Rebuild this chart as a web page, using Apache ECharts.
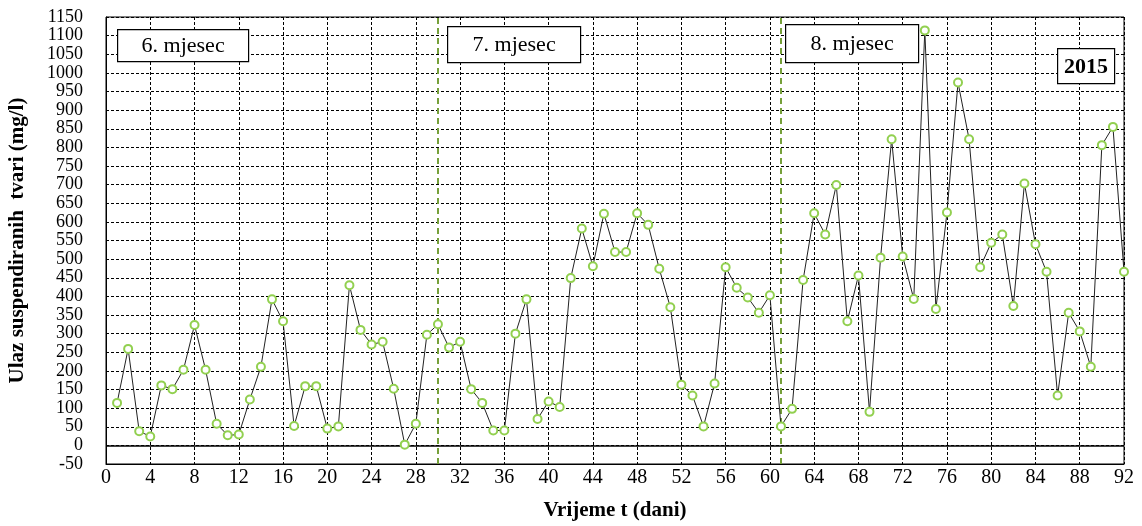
<!DOCTYPE html>
<html>
<head>
<meta charset="utf-8">
<script src="https://cdn.jsdelivr.net/npm/echarts@6/dist/echarts.min.js"></script>
<style>html,body{margin:0;padding:0;background:#fff}#c{width:1142px;height:526px}</style>
</head>
<body>
<div id="c"></div>
<script>
const days = [1,2,3,4,5,6,7,8,9,10,11,12,13,14,15,16,17,18,19,20,21,22,23,24,25,26,27,28,29,30,31,32,33,34,35,36,37,38,39,40,41,42,43,44,45,46,47,48,49,50,51,52,53,54,55,56,57,58,59,60,61,62,63,64,65,66,67,68,69,70,71,72,73,74,75,76,77,78,79,80,81,82,83,84,85,86,87,88,89,90,91,92];
const values = [114,259,38,24,161,151,203,323,203,58,27,29,123,211,392,333,52,159,159,45,51,430,310,271,278,152,2,58,297,325,
  263,278,151,114,40,40,300,392,71,118,103,449,582,481,622,519,519,623,592,474,371,163,134,51,166,478,423,397,356,403,51,
  98,444,623,566,699,333,456,90,504,822,507,393,1114,366,625,974,822,478,544,566,374,703,540,466,134,356,306,211,806,855,466];
const monthBreaks = [30, 61];
const monthLabels = ["6. mjesec", "7. mjesec", "8. mjesec"];
const yearLabel = "2015";
const xTitle = "Vrijeme t (dani)";
const yTitle = "Ulaz suspendiranih  tvari (mg/l)";

const font = "Liberation Serif";
const chart = echarts.init(document.getElementById('c'), null, {renderer: 'canvas'});
const data = days.map((d, i) => [d, values[i]]);

function box(text, left, top, w, h, bold, size) {
  return {
    type: 'group', left: left, top: top, z: 100,
    children: [
      {type: 'rect', z: 100, shape: {x: 0, y: 0, width: w, height: h}, style: {fill: '#fff', stroke: '#000', lineWidth: 1.2}},
      {type: 'text', z: 101, x: w / 2, y: h / 2 + 1, style: {text: text, fill: '#000', fontFamily: font, fontSize: size, fontWeight: bold ? 'bold' : 'normal', align: 'center', verticalAlign: 'middle'}}
    ]
  };
}

chart.setOption({
  animation: false,
  backgroundColor: '#fff',
  grid: {left: 106, right: 18, top: 17, bottom: 62, outerBoundsMode: 'none', containLabel: false, show: true, borderColor: '#000', borderWidth: 1, backgroundColor: 'transparent'},
  xAxis: {
    type: 'value', min: 0, max: 92, interval: 4,
    name: xTitle, nameLocation: 'middle', nameGap: 36,
    nameTextStyle: {fontFamily: font, fontWeight: 'bold', fontSize: 21, color: '#000'},
    axisLine: {onZero: false, lineStyle: {color: '#000', width: 1}},
    axisTick: {show: false},
    axisLabel: {fontFamily: font, fontSize: 20, color: '#000', margin: 4, showMinLabel: true, showMaxLabel: true, formatter: v => String(v)},
    splitLine: {show: true, lineStyle: {color: '#000', type: [3, 2], width: 1}}
  },
  yAxis: {
    type: 'value', min: -50, max: 1150, interval: 50,
    name: yTitle, nameLocation: 'middle', nameGap: 78,
    nameTextStyle: {fontFamily: font, fontWeight: 'bold', fontSize: 21, color: '#000'},
    axisLine: {show: true, lineStyle: {color: '#000', width: 1}},
    axisTick: {show: false},
    axisLabel: {fontFamily: font, fontSize: 18, color: '#000', margin: 23, lineHeight: 16, formatter: v => String(v)},
    splitLine: {show: true, lineStyle: {color: '#000', type: [3, 2], width: 1}}
  },
  series: [{
    type: 'line', data: data,
    symbol: 'emptyCircle', symbolSize: 8,
    lineStyle: {color: '#222', width: 1},
    itemStyle: {color: '#92d050', borderColor: '#92d050', borderWidth: 1.5},
    z: 5,
    markLine: {
      silent: true, symbol: 'none', label: {show: false},
      data: [
        {yAxis: 0, lineStyle: {color: '#000', type: 'solid', width: 1.5}},
        {xAxis: monthBreaks[0], lineStyle: {color: '#76a03a', type: [6, 4], width: 2}},
        {xAxis: monthBreaks[1], lineStyle: {color: '#76a03a', type: [6, 4], width: 2}}
      ]
    }
  }],
  graphic: [
    box(monthLabels[0], 117, 29, 131, 32, false, 22),
    box(monthLabels[1], 447, 26, 133, 36, false, 22),
    box(monthLabels[2], 785, 24, 133, 38, false, 22),
    box(yearLabel, 1057, 48, 57, 35, true, 22)
  ]
});
</script>
</body>
</html>
